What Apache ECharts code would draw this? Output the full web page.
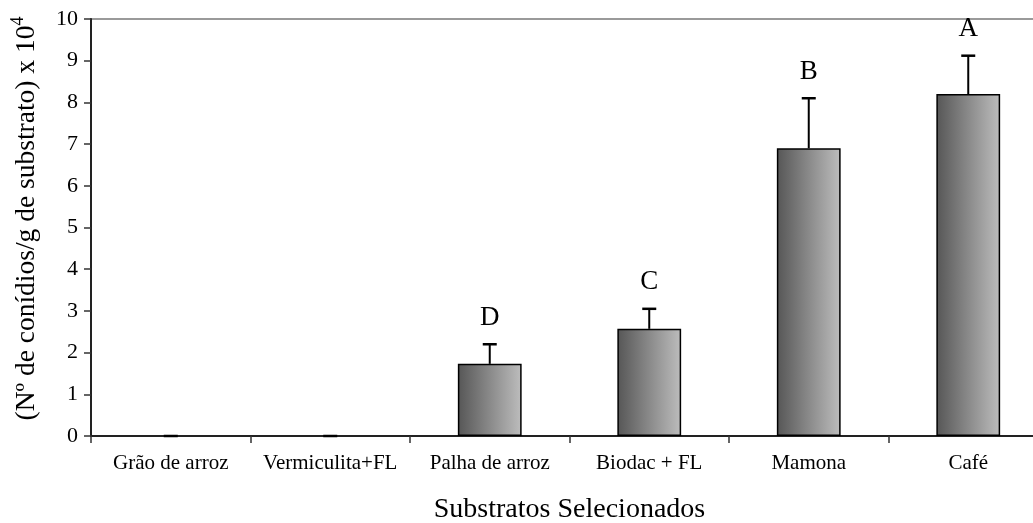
<!DOCTYPE html>
<html>
<head>
<meta charset="utf-8">
<script src="https://cdn.jsdelivr.net/npm/echarts@6/dist/echarts.min.js"></script>
<style>
  html, body { margin: 0; padding: 0; background: #fff; overflow: hidden; }
  /* the plot frame runs a little past the right edge of the page */
  #chart { width: 1050px; height: 523px; }
</style>
</head>
<body>
<div id="chart"></div>
<script>
// Conidia production per substrate (x 10^4 conidia / g substrate)
const categories = ['Grão de arroz', 'Vermiculita+FL', 'Palha de arroz', 'Biodac + FL', 'Mamona', 'Café'];
const means = [0, 0, 1.73, 2.57, 6.9, 8.2];
const errors = [0, 0, 0.47, 0.48, 1.2, 0.92];
const letters = ['', '', 'D', 'C', 'B', 'A'];
const yMin = 0, yMax = 10, yStep = 1;

const serif = "'Liberation Serif', 'Times New Roman', serif";

const chart = echarts.init(document.getElementById('chart'), null, { renderer: 'canvas' });

const barFill = new echarts.graphic.LinearGradient(0, 0, 1, 0, [
  { offset: 0, color: '#565656' },
  { offset: 1, color: '#bdbdbd' }
]);

// Error bar (upper whisker with cap) plus significance letter
function renderError(params, api) {
  const i = params.dataIndex;
  const x = api.value(0);
  const m = api.value(1);
  const e = api.value(2);
  const base = api.coord([x, m]);
  const tip = api.coord([x, m + e]);
  const half = 7;
  const children = [
    { type: 'line', shape: { x1: base[0], y1: base[1], x2: tip[0], y2: tip[1] },
      style: { stroke: '#000', lineWidth: 2 } },
    { type: 'line', shape: { x1: tip[0] - half, y1: tip[1], x2: tip[0] + half, y2: tip[1] },
      style: { stroke: '#000', lineWidth: 2.5 } }
  ];
  if (letters[i]) {
    children.push({
      type: 'text',
      style: {
        text: letters[i], x: tip[0], y: tip[1] - 13,
        align: 'center', verticalAlign: 'bottom',
        font: '27px ' + serif, fill: '#000'
      }
    });
  }
  return { type: 'group', children };
}

// Empty bars draw no outline, only their zero whisker cap shows
const barData = means.map(v => (v === 0 ? { value: v, itemStyle: { borderWidth: 0 } } : v));

chart.setOption({
  animation: false,
  backgroundColor: '#fff',
  grid: {
    left: 91, top: 19, bottom: 87, right: 2,
    outerBoundsMode: 'none',
    containLabel: false,
    show: true, borderColor: '#9a9a9a', borderWidth: 2, backgroundColor: 'transparent'
  },
  xAxis: {
    type: 'category',
    data: categories,
    name: 'Substratos Selecionados',
    nameLocation: 'middle',
    nameGap: 60,
    nameTextStyle: { fontFamily: serif, fontSize: 28, color: '#000' },
    axisLine: { lineStyle: { color: '#222', width: 2 } },
    axisTick: { show: true, length: 7, lineStyle: { color: '#333', width: 1.5 } },
    axisLabel: { fontFamily: serif, fontSize: 21, color: '#000', margin: 17, interval: 0 },
    splitLine: { show: false }
  },
  yAxis: {
    type: 'value',
    min: yMin, max: yMax, interval: yStep,
    name: '{a|(Nº de conídios/g de substrato) x 10}{s|4}',
    nameLocation: 'middle',
    nameRotate: 90,
    nameGap: 50,
    nameTextStyle: {
      padding: [0, 0, 0, 18],
      rich: {
        a: { fontFamily: serif, fontSize: 27.5, color: '#000', verticalAlign: 'bottom', lineHeight: 32 },
        s: { fontFamily: serif, fontSize: 18, color: '#000', verticalAlign: 'top', lineHeight: 32, padding: [0, 0, 13, 0] }
      }
    },
    axisLine: { show: true, lineStyle: { color: '#222', width: 2 } },
    axisTick: { show: true, length: 7, lineStyle: { color: '#333', width: 1.5 } },
    axisLabel: { fontFamily: serif, fontSize: 22, color: '#000', margin: 13 },
    splitLine: { show: false }
  },
  series: [
    {
      type: 'bar',
      data: barData,
      barWidth: '40%',
      itemStyle: { color: barFill, borderColor: '#000', borderWidth: 1.5 },
      z: 2
    },
    {
      type: 'custom',
      renderItem: renderError,
      data: categories.map((c, i) => [i, means[i], errors[i]]),
      encode: { x: 0, y: 1 },
      z: 3
    }
  ]
});
</script>
</body>
</html>
